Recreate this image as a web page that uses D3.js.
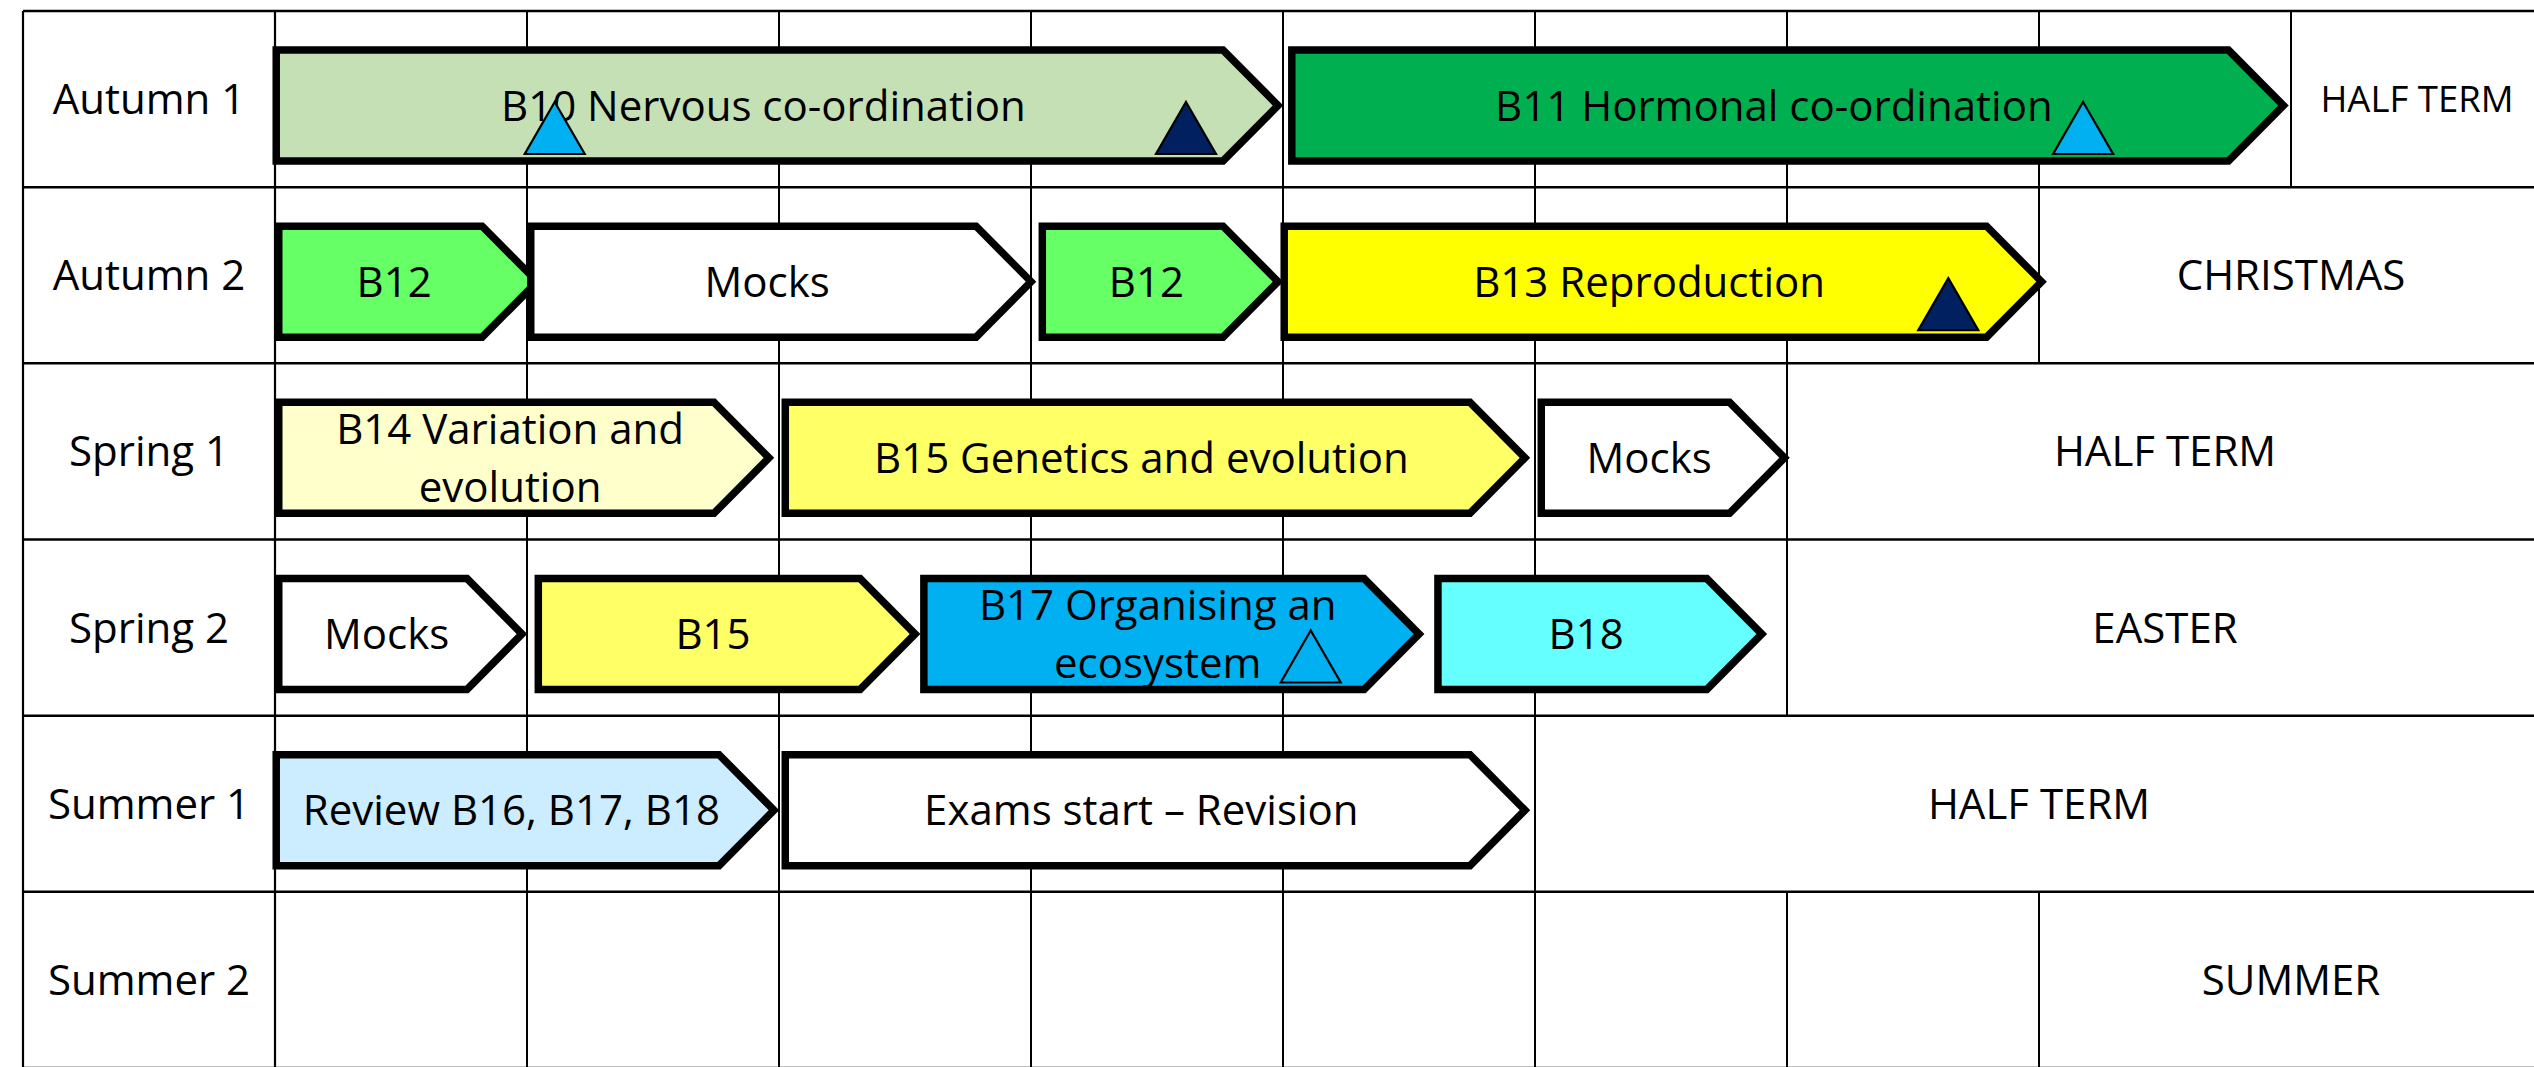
<!DOCTYPE html>
<html><head><meta charset="utf-8">
<script src="https://cdn.jsdelivr.net/npm/d3@7"></script>
<style>
body{margin:0;background:#fff;overflow:hidden;}
svg{display:block;}
text{font-family:"Open Sans",sans-serif;fill:#000;}
</style>
</head><body>
<svg id="chart" width="2534" height="1067"></svg>
<script>
// ---------- data ----------
const terms = ["Autumn 1","Autumn 2","Spring 1","Spring 2","Summer 1","Summer 2"];
const weekCount = 9;

// holiday cell per term: first week column it covers (to the end of the table)
const holidayTerm  = ["Autumn 1","Autumn 2","Spring 1","Spring 2","Summer 1","Summer 2"];
const holidayStart = [8, 7, 6, 6, 5, 7];
const holidayLabel = ["HALF TERM","CHRISTMAS","HALF TERM","EASTER","HALF TERM","SUMMER"];

// units (start / end in weeks from the start of the term)
const unitTerm  = ["Autumn 1","Autumn 1",
                   "Autumn 2","Autumn 2","Autumn 2","Autumn 2",
                   "Spring 1","Spring 1","Spring 1",
                   "Spring 2","Spring 2","Spring 2","Spring 2",
                   "Summer 1","Summer 1"];
const unitLabel = ["B10 Nervous co-ordination","B11 Hormonal co-ordination",
                   "B12","Mocks","B12","B13 Reproduction",
                   "B14 Variation and\nevolution","B15 Genetics and evolution","Mocks",
                   "Mocks","B15","B17 Organising an\necosystem","B18",
                   "Review B16, B17, B18","Exams start \u2013 Revision"];
const unitKind  = ["B10","B11",
                   "B12","Mocks","B12","B13",
                   "B14","B15","Mocks",
                   "Mocks","B15","B17","B18",
                   "Review","Exams"];
const unitStart = [-0.01, 4.02,
                   0.00, 1.00, 3.03, 3.99,
                   0.00, 2.01, 5.01,
                   0.00, 1.03, 2.56, 4.60,
                  -0.01, 2.01];
const unitEnd   = [4.00, 7.99,
                   1.06, 3.02, 4.00, 7.03,
                   1.98, 4.98, 6.01,
                   1.00, 2.56, 4.56, 5.92,
                   2.00, 4.98];

// assessment markers
const markTerm = ["Autumn 1","Autumn 1","Autumn 1","Autumn 2","Spring 2"];
const markWeek = [1.11, 3.615, 7.175, 6.64, 4.11];
const markKind = ["light","dark","light","dark","open"];

// ---------- styles ----------
const kindFill = {B10:"#C5E0B4",B11:"#00B050",B12:"#66FF66",Mocks:"#FFFFFF",B13:"#FFFF00",
                  B14:"#FFFFCC",B15:"#FFFF66",B17:"#00B0F0",B18:"#66FFFF",Review:"#CCECFF",Exams:"#FFFFFF"};
const markFill = {light:"#00B0F0",dark:"#002060",open:"none"};

const units = unitTerm.map((t,i)=>({term:t,label:unitLabel[i],kind:unitKind[i],start:unitStart[i],end:unitEnd[i]}));
const holidays = holidayTerm.map((t,i)=>({term:t,start:holidayStart[i],label:holidayLabel[i]}));
const marks = markTerm.map((t,i)=>({term:t,week:markWeek[i],kind:markKind[i]}));

// ---------- layout ----------
const svg = d3.select("#chart");
const tableLeft = 23, labelRight = 275, colW = 252;
const x = d3.scaleLinear().domain([0, weekCount]).range([labelRight, labelRight + colW*weekCount]);
const y = d3.scaleBand().domain(terms).range([11, 1068]);
const rh = y.bandwidth();
const fs = 42, cap = 15;

const grid = svg.append("g");
// horizontal lines
const hLines = terms.map(t=>y(t)).concat([y.range()[1]]);
grid.selectAll("line.h").data(hLines).join("line")
  .attr("x1", tableLeft).attr("x2", x(weekCount))
  .attr("y1", d=>d).attr("y2", d=>d)
  .attr("stroke", "#000").attr("stroke-width", 2.5);
// vertical border lines
[tableLeft, labelRight, x(weekCount)].forEach(v=>{
  grid.append("line").attr("x1", v).attr("x2", v).attr("y1", y.range()[0]).attr("y2", y.range()[1])
    .attr("stroke","#000").attr("stroke-width", 2.2);
});
// inner week lines per term, up to the holiday cell
const vSegs = [];
holidays.forEach(h=>{ for(let k=1;k<=h.start;k++) vSegs.push({term:h.term,k}); });
grid.selectAll("line.v").data(vSegs).join("line")
  .attr("x1", d=>x(d.k)).attr("x2", d=>x(d.k))
  .attr("y1", d=>y(d.term)).attr("y2", d=>y(d.term)+rh)
  .attr("stroke","#000").attr("stroke-width", 2);

// term labels
svg.append("g").selectAll("text").data(terms).join("text")
  .attr("x", (tableLeft+labelRight)/2).attr("y", d=>y(d)+rh/2+cap)
  .attr("text-anchor","middle").attr("font-size", fs).text(d=>d);

// holiday labels
svg.append("g").selectAll("text").data(holidays).join("text")
  .attr("x", d=>(x(d.start)+x(weekCount))/2).attr("y", d=>y(d.term)+rh/2+(weekCount-d.start===1?13:cap))
  .attr("text-anchor","middle").attr("font-size", d=>weekCount-d.start===1?36.5:fs).text(d=>d.label);

// unit arrows
const sw = 7.5, depth = 55, topOff = 39, botOff = 150;
const ug = svg.append("g").selectAll("g").data(units).join("g");
ug.append("path")
  .attr("d", d=>{
    const x0 = x(d.start)+sw/2, xt = x(d.end)-5;
    const y0 = y(d.term)+topOff, y1 = y(d.term)+botOff, ym = (y0+y1)/2;
    return `M${x0},${y0}L${xt-depth},${y0}L${xt},${ym}L${xt-depth},${y1}L${x0},${y1}Z`;
  })
  .attr("fill", d=>kindFill[d.kind]).attr("stroke","#000")
  .attr("stroke-width", sw).attr("stroke-linejoin","miter");
ug.each(function(d){
  const lines = d.label.split("\n");
  const x0 = x(d.start)+sw/2, xt = x(d.end)-5;
  const cx = (x0 + xt - depth/2)/2;
  const ym = y(d.term)+(topOff+botOff)/2;
  const lh = 57.5;
  const t = d3.select(this).append("text").attr("text-anchor","middle").attr("font-size", fs);
  lines.forEach((ln,i)=>{
    t.append("tspan").attr("x", cx)
     .attr("y", ym + cap + (i-(lines.length-1)/2)*lh).text(ln);
  });
});

// assessment markers
const mw = 60, mh = 52, mBase = 143;
svg.append("g").selectAll("path").data(marks).join("path")
  .attr("d", d=>{
    const ax = x(d.week), by = y(d.term)+mBase;
    return `M${ax},${by-mh}L${ax+mw/2},${by}L${ax-mw/2},${by}Z`;
  })
  .attr("fill", d=>markFill[d.kind]).attr("stroke","#000").attr("stroke-width", 2.2);
</script>
</body></html>
